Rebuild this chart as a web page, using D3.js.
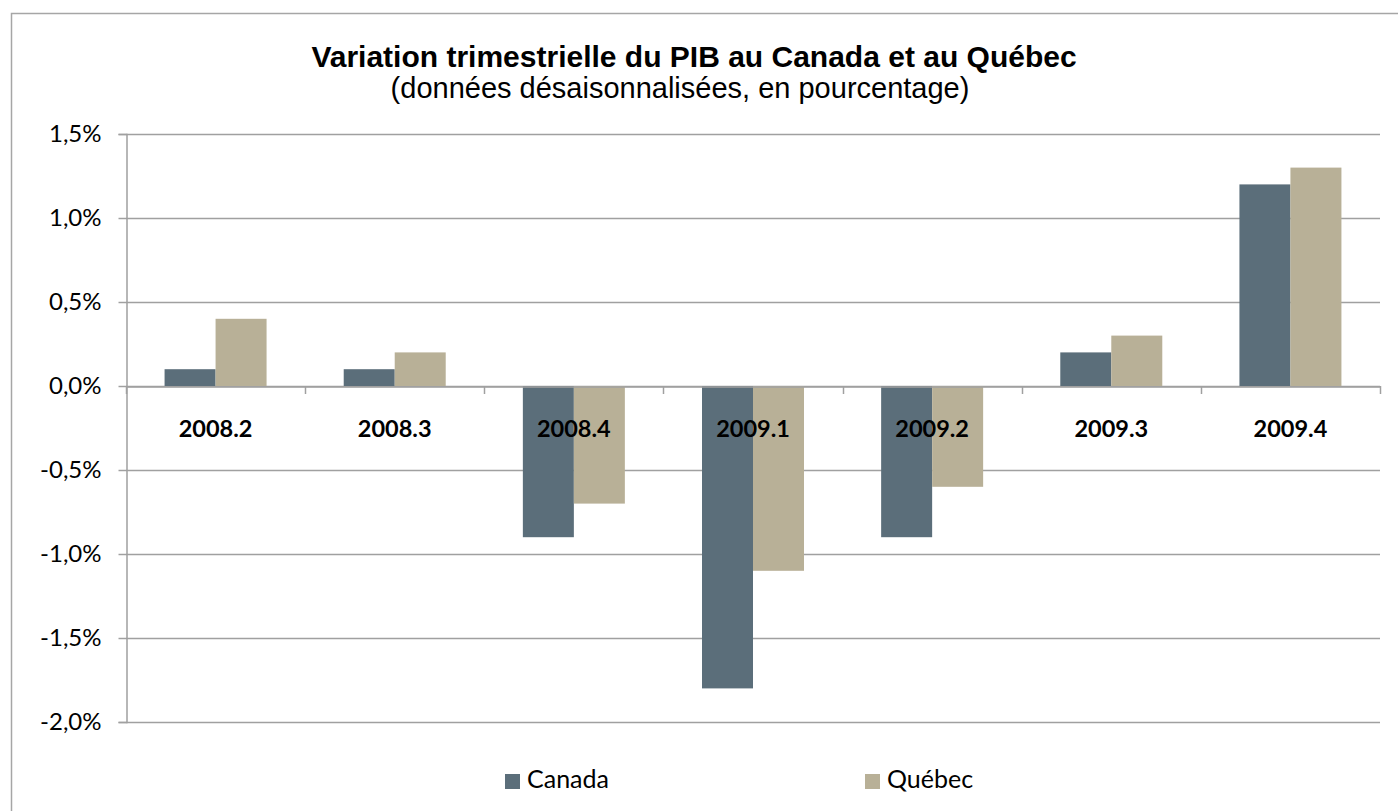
<!DOCTYPE html>
<html><head><meta charset="utf-8">
<script src="https://cdn.jsdelivr.net/npm/d3@7"></script>
<style>body{margin:0;background:#fff;}svg{display:block;}</style>
</head><body>
<script>
const categories = ["2008.2","2008.3","2008.4","2009.1","2009.2","2009.3","2009.4"];
const canada = [0.1, 0.1, -0.9, -1.8, -0.9, 0.2, 1.2];
const quebec = [0.4, 0.2, -0.7, -1.1, -0.6, 0.3, 1.3];
const seriesNames = ["Canada","Québec"];
const colors = ["#5b6e7a","#b8b097"];
const yTicks = [1.5, 1.0, 0.5, 0.0, -0.5, -1.0, -1.5, -2.0];
const titleText = "Variation trimestrielle du PIB au Canada et au Québec";
const subtitleText = "(données désaisonnalisées, en pourcentage)";

(function(){
const W = 1398, H = 811;
const bodyFont = "Lato, 'Open Sans', sans-serif";
const titleFont = "'Liberation Sans', Arial, sans-serif";
const svg = d3.select("body").append("svg").attr("width", W).attr("height", H);

svg.append("rect").attr("x", 11.5).attr("y", 13.5).attr("width", W).attr("height", H)
  .attr("fill", "#fff").attr("stroke", "#a6a6a6").attr("stroke-width", 1.5);

const pLeft = 126, pRight = 1380, pTop = 134, pBottom = 722;
const y = d3.scaleLinear().domain([-2, 1.5]).range([pBottom, pTop]);
const x0 = d3.scaleBand().domain(categories).range([pLeft, pRight]).paddingInner(0).paddingOuter(0);
const barW = 51;
const x1 = d3.scaleBand().domain(seriesNames).range([0, 2 * barW]).padding(0);

svg.append("g").selectAll("line").data(yTicks).join("line")
  .attr("x1", pLeft).attr("x2", pRight)
  .attr("y1", d => Math.round(y(d)) + 0.5).attr("y2", d => Math.round(y(d)) + 0.5)
  .attr("stroke", "#a0a0a0").attr("stroke-width", 1.5);

const yAxis = d3.axisLeft(y).tickValues(yTicks).tickSize(8).tickPadding(17)
  .tickFormat(d => d3.format(".1f")(d).replace(".", ",").replace("−", "-") + "%");
const gy = svg.append("g").attr("transform", `translate(${pLeft + 0.5},0)`).call(yAxis);
gy.select(".domain").attr("stroke", "#a0a0a0").attr("stroke-width", 1.5);
gy.selectAll(".tick line").attr("stroke", "#a0a0a0").attr("stroke-width", 1.5);
gy.selectAll(".tick text").attr("font-family", bodyFont)
  .attr("font-size", 24).attr("fill", "#000");

const data = categories.map((c, i) => ({ cat: c, vals: [canada[i], quebec[i]] }));
const groups = svg.append("g").selectAll("g").data(data).join("g")
  .attr("transform", d => `translate(${x0(d.cat) + x0.bandwidth() / 2 - barW},0)`);
groups.selectAll("rect").data(d => d.vals.map((v, j) => ({ v, s: seriesNames[j], j })))
  .join("rect")
  .attr("x", d => x1(d.s))
  .attr("width", x1.bandwidth())
  .attr("y", d => y(Math.max(0, d.v)))
  .attr("height", d => Math.abs(y(d.v) - y(0)))
  .attr("fill", d => colors[d.j]);

const xAxis = d3.axisBottom(x0).tickSize(0).tickFormat("");
const gx = svg.append("g").attr("transform", `translate(0,${Math.round(y(0)) + 0.5})`).call(xAxis);
gx.select(".domain").attr("stroke", "#a0a0a0").attr("stroke-width", 1.5);
const bounds = categories.map(c => x0(c)).concat([pRight]);
svg.append("g").selectAll("line").data(bounds).join("line")
  .attr("x1", d => Math.round(d) + 0.5).attr("x2", d => Math.round(d) + 0.5)
  .attr("y1", y(0)).attr("y2", y(0) + 8)
  .attr("stroke", "#a0a0a0").attr("stroke-width", 1.5);

svg.append("g").selectAll("text").data(categories).join("text")
  .attr("x", d => x0(d) + x0.bandwidth() / 2)
  .attr("y", 437)
  .attr("text-anchor", "middle")
  .attr("font-family", bodyFont)
  .attr("font-weight", "bold").attr("font-size", 23.5).attr("fill", "#000")
  .text(d => d);

svg.append("text").attr("x", 694).attr("y", 67).attr("text-anchor", "middle")
  .attr("font-family", titleFont).attr("font-weight", "bold")
  .attr("font-size", 30).attr("fill", "#000").text(titleText);
svg.append("text").attr("x", 680).attr("y", 98).attr("text-anchor", "middle")
  .attr("font-family", titleFont)
  .attr("font-size", 29).attr("fill", "#000").text(subtitleText);

const legX = [505, 865];
const leg = svg.append("g").selectAll("g").data(seriesNames).join("g")
  .attr("transform", (d, i) => `translate(${legX[i]},774)`);
leg.append("rect").attr("width", 15).attr("height", 15).attr("fill", (d, i) => colors[i]);
leg.append("text").attr("x", 22).attr("y", 14)
  .attr("font-family", bodyFont)
  .attr("font-size", 25).attr("fill", "#000").text(d => d);
})();
</script>
</body></html>
